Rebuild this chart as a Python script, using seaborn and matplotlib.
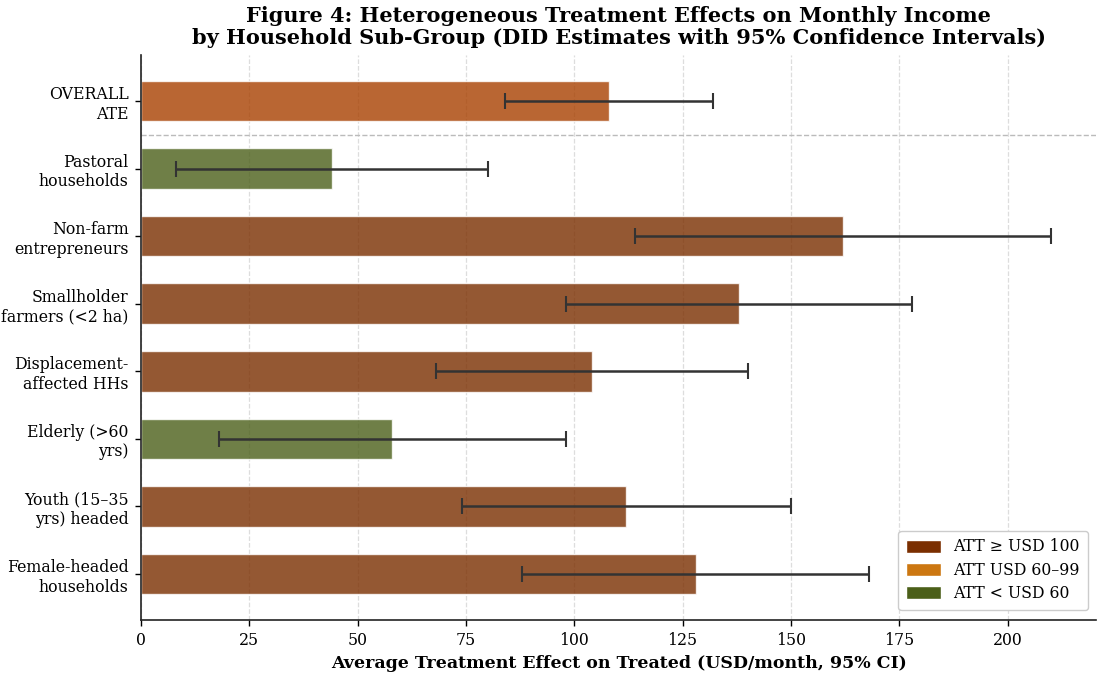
import matplotlib
matplotlib.use("Agg")
import matplotlib.pyplot as plt
from matplotlib.patches import Patch
import seaborn as sns
import pandas as pd

# Sub-group DID estimates (USD/month) with 95% confidence bounds
groups = [
    "OVERALL\nATE",
    "Pastoral\nhouseholds",
    "Non-farm\nentrepreneurs",
    "Smallholder\nfarmers (<2 ha)",
    "Displacement-\naffected HHs",
    "Elderly (>60\nyrs)",
    "Youth (15–35\nyrs) headed",
    "Female-headed\nhouseholds",
]
att = [108, 44, 162, 138, 104, 58, 112, 128]
ci_low = [84, 8, 114, 98, 68, 18, 74, 88]
ci_high = [132, 80, 210, 178, 140, 98, 150, 168]

legend_labels = ["ATT ≥ USD 100", "ATT USD 60–99", "ATT < USD 60"]

COL_HIGH = "#7a2e00"
COL_MID = "#cc7711"
COL_LOW = "#4b5f19"
COL_OVERALL = "#a84000"


def tier_colour(name, value):
    if name.startswith("OVERALL"):
        return COL_OVERALL
    if value >= 100:
        return COL_HIGH
    if value >= 60:
        return COL_MID
    return COL_LOW


df = pd.DataFrame({"group": groups, "att": att, "lo": ci_low, "hi": ci_high})
palette = {g: tier_colour(g, v) for g, v in zip(groups, att)}

sns.set_style("ticks")
plt.rcParams["font.family"] = ["DejaVu Serif"]
plt.rcParams["text.color"] = "black"
plt.rcParams["axes.labelcolor"] = "black"
plt.rcParams["xtick.color"] = "black"
plt.rcParams["ytick.color"] = "black"

fig, ax = plt.subplots(figsize=(10.97, 6.77), dpi=100)
fig.subplots_adjust(left=0.1285, right=0.9995, top=0.9188, bottom=0.0842)

sns.barplot(
    data=df, x="att", y="group", hue="group", palette=palette, legend=False,
    orient="h", width=0.6, alpha=0.8, edgecolor="white", linewidth=1.0,
    saturation=1, errorbar=None, ax=ax, zorder=2,
)

ypos = list(range(len(groups)))
ax.errorbar(
    df["att"], ypos,
    xerr=[df["att"] - df["lo"], df["hi"] - df["att"]],
    fmt="none", ecolor="#333333", elinewidth=1.8, capsize=6, capthick=1.5,
    zorder=3,
)

# separator between the pooled estimate and the sub-groups
ax.axhline(0.5, color="#bbbbbb", linestyle="--", linewidth=1.0, zorder=1)

ax.set_xlim(0, max(ci_high) * 1.05)
ax.xaxis.grid(True, linestyle="--", color="#dddddd", linewidth=0.9, zorder=0)
ax.set_axisbelow(True)
sns.despine(ax=ax, top=True, right=True)
for sp in ("left", "bottom"):
    ax.spines[sp].set_linewidth(1.2)
    ax.spines[sp].set_color("#222222")

ax.set_ylabel("")
ax.set_xlabel("Average Treatment Effect on Treated (USD/month, 95% CI)",
              fontsize=12.5, fontweight="bold", labelpad=4)
ax.tick_params(axis="both", labelsize=11.3, length=4.5, width=1.0, pad=4.5)
ax.set_title(
    "Figure 4: Heterogeneous Treatment Effects on Monthly Income\n"
    "by Household Sub-Group (DID Estimates with 95% Confidence Intervals)",
    fontsize=15, fontweight="bold", pad=8, linespacing=1.1,
)

handles = [
    Patch(facecolor=COL_HIGH, edgecolor="white", label=legend_labels[0]),
    Patch(facecolor=COL_MID, edgecolor="white", label=legend_labels[1]),
    Patch(facecolor=COL_LOW, edgecolor="white", label=legend_labels[2]),
]
ax.legend(handles=handles, loc="lower right", fontsize=11.3, frameon=True,
          framealpha=1.0, edgecolor="#cccccc", borderpad=0.5,
          labelspacing=0.4, handlelength=2.2, handleheight=0.9,
          bbox_to_anchor=(0.999, 0.004))

fig.savefig("out.png", dpi=100)
